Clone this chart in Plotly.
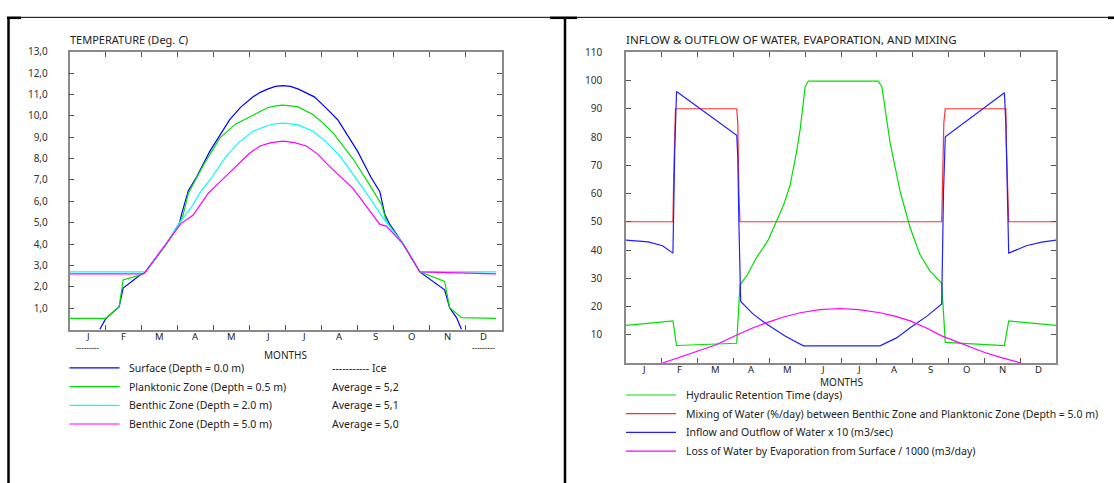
import plotly.graph_objects as go

W, H = 1114, 483

MONTHS = ["J", "F", "M", "A", "M", "J", "J", "A", "S", "O", "N", "D"]

# ---- left chart: temperature, x in months from 1 January ----
surface_m = [0.84, 1.01, 1.38, 1.49, 2.0, 2.09, 2.69, 3.06, 3.11, 3.25, 3.3, 3.53, 3.9, 4.45, 4.75, 5.1, 5.3,
             5.5, 5.72, 5.93, 6.14, 6.36, 6.56, 6.8, 7.11, 7.45, 8.0, 8.37, 8.62, 8.76, 8.9, 9.27, 9.73,
             10.42, 10.56, 10.75, 10.89]
surface_t = [0.0, 0.52, 1.07, 1.94, 2.6, 2.66, 4.0, 5.0, 5.38, 6.3, 6.5, 7.14, 8.35, 9.82, 10.4, 10.89, 11.1,
             11.25, 11.38, 11.42, 11.38, 11.25, 11.1, 10.89, 10.4, 9.82, 8.35, 7.14, 6.45, 5.38, 4.92, 4.0, 2.7,
             1.86, 1.02, 0.56, 0.0]

plankton_m = [0.0, 1.01, 1.38, 1.49, 1.95, 2.09, 2.69, 3.06, 3.16, 3.3, 3.71, 4.18, 4.6, 5.1, 5.5, 5.72, 5.93,
              6.14, 6.35, 6.77, 7.05, 7.32, 7.88, 8.34, 8.67, 8.8, 9.27, 9.73, 10.42, 10.56, 10.89, 11.85]
plankton_t = [0.52, 0.52, 1.07, 2.32, 2.55, 2.66, 4.0, 5.0, 5.38, 6.37, 7.67, 8.97, 9.6, 10.05, 10.38, 10.47,
              10.5, 10.47, 10.42, 10.05, 9.65, 9.2, 7.98, 6.76, 5.84, 5.07, 4.0, 2.7, 2.25, 1.02, 0.56, 0.52]

benthic2_m = [0.0, 2.06, 2.09, 2.69, 3.06, 3.16, 3.43, 3.62, 3.9, 4.36, 4.7, 5.1, 5.5, 5.72, 5.93, 6.14, 6.35,
              6.77, 7.15, 7.51, 8.16, 8.71, 9.27, 9.73, 11.85]
benthic2_t = [2.7, 2.7, 2.66, 4.0, 5.0, 5.23, 5.84, 6.4, 7.0, 8.13, 8.75, 9.28, 9.55, 9.63, 9.66, 9.63, 9.58,
              9.28, 8.75, 8.13, 6.6, 5.23, 4.0, 2.7, 2.7]

benthic5_m = [0.0, 2.06, 2.09, 2.69, 3.1, 3.43, 3.85, 4.18, 4.73, 5.0, 5.29, 5.6, 5.93, 6.25, 6.58, 6.9, 7.2,
              7.69, 7.88, 8.62, 8.8, 9.27, 9.73, 11.85]
benthic5_t = [2.61, 2.61, 2.66, 4.0, 4.97, 5.35, 6.37, 6.91, 7.83, 8.25, 8.59, 8.75, 8.82, 8.75, 8.59, 8.2,
              7.67, 6.91, 6.6, 4.92, 4.84, 4.0, 2.7, 2.61]

TEMP_TICKS = [1, 2, 3, 4, 5, 6, 7, 8, 9, 10, 11, 12, 13]
TEMP_LABELS = ["1,0", "2,0", "3,0", "4,0", "5,0", "6,0", "7,0", "8,0", "9,0", "10,0", "11,0", "12,0", "13,0"]
TEMP_NAMES = ["Surface (Depth = 0.0 m)", "Planktonic Zone (Depth = 0.5 m)",
              "Benthic Zone (Depth = 2.0 m)", "Benthic Zone (Depth = 5.0 m)"]
TEMP_NOTES = ["----------- Ice", "Average = 5,2", "Average = 5,1", "Average = 5,0"]

# ---- right chart: water balance ----
retention_m = [0.0, 1.31, 1.41, 3.09, 3.18, 3.4, 3.65, 3.96, 4.2, 4.4, 4.58, 4.75, 4.86, 5.0, 5.09, 7.04,
               7.14, 7.37, 7.65, 7.93, 8.2, 8.47, 8.81, 8.91, 10.56, 10.68, 12.0]
retention_v = [13.3, 14.9, 6.2, 7.0, 27.6, 31.5, 37.5, 43.3, 50.2, 56.0, 63.0, 74.0, 82.7, 97.8, 99.8, 99.8,
               97.8, 78.0, 60.7, 47.9, 38.5, 32.8, 28.2, 7.3, 6.2, 14.9, 13.3]

mixing_m = [0.0, 1.31, 1.33, 1.35, 1.38, 3.09, 3.12, 3.15, 3.18, 8.81, 8.84, 8.87, 8.91, 10.6, 10.62,
            10.65, 10.68, 12.0]
mixing_v = [50, 50, 65, 75, 90, 90, 85, 60, 50, 50, 65, 85, 90, 90, 75, 65, 50, 50]

flow_m = [0.0, 0.62, 1.02, 1.31, 1.36, 1.41, 3.09, 3.12, 3.15, 3.18, 3.2, 3.55, 3.93, 4.45, 4.95, 7.09,
          7.55, 7.93, 8.4, 8.81, 8.86, 8.91, 10.56, 10.6, 10.64, 10.68, 11.17, 11.6, 12.0]
flow_v = [43.5, 42.9, 41.5, 38.9, 75.0, 96.1, 80.6, 73.0, 50.0, 27.6, 21.8, 17.3, 13.7, 9.5, 6.1, 6.1,
          8.9, 12.5, 16.6, 20.9, 60.0, 80.1, 95.7, 85.0, 60.0, 38.9, 41.5, 42.8, 43.5]

evap_m = [1.02, 1.56, 1.79, 2.5, 3.09, 3.5, 3.93, 4.4, 4.86, 5.4, 5.97, 6.5, 7.09, 7.5, 7.93, 8.4, 8.81,
          9.4, 9.99, 10.5, 11.03]
evap_v = [0.0, 2.4, 3.2, 6.4, 9.9, 12.2, 14.3, 16.3, 17.8, 18.9, 19.3, 18.9, 17.8, 16.6, 14.9, 12.3, 9.6,
          6.6, 3.8, 1.8, 0.0]

WATER_TICKS = [10, 20, 30, 40, 50, 60, 70, 80, 90, 100, 110]
WATER_NAMES = ["Hydraulic Retention Time (days)",
               "Mixing of Water (%/day) between Benthic Zone and Planktonic Zone (Depth = 5.0 m)",
               "Inflow and Outflow of Water x 10 (m3/sec)",
               "Loss of Water by Evaporation from Surface / 1000 (m3/day)"]


def px(x):
    return x / W


def py(y):
    return 1 - y / H


FONT = "Noto Sans"
FRAME = "#8a8a8a"

fig = go.Figure()

temp_series = [(surface_m, surface_t, "#0000ff"), (plankton_m, plankton_t, "#00e000"),
               (benthic2_m, benthic2_t, "#00ffff"), (benthic5_m, benthic5_t, "#ff00ff")]
for i, (m, t, c) in enumerate(temp_series):
    fig.add_trace(go.Scatter(x=m, y=t, mode="lines", name=TEMP_NAMES[i],
                             line=dict(color=c, width=1.2), xaxis="x", yaxis="y"))

water_series = [(retention_m, retention_v, "#00e000"), (mixing_m, mixing_v, "#ff3030"),
                (flow_m, flow_v, "#2020ff"), (evap_m, evap_v, "#ff00ff")]
for i, (m, v, c) in enumerate(water_series):
    fig.add_trace(go.Scatter(x=m, y=v, mode="lines", name=WATER_NAMES[i],
                             line=dict(color=c, width=1.2), xaxis="x2", yaxis="y2"))

axis_common = dict(showgrid=False, zeroline=False, showline=True, linecolor=FRAME, linewidth=1.5,
                   mirror="allticks", ticks="inside", ticklen=5, tickwidth=1.2, tickcolor="#555",
                   fixedrange=True)

month_edges = list(range(13))

fig.update_layout(
    width=W, height=H, autosize=False,
    margin=dict(l=0, r=0, t=0, b=0),
    paper_bgcolor="white", plot_bgcolor="white",
    showlegend=False,
    font=dict(family=FONT, size=10.5, color="#222"),
    xaxis=dict(domain=[px(69.5), px(501.5)], range=[0, 12], anchor="y",
               tickvals=month_edges, ticktext=[""] * 13, **axis_common),
    yaxis=dict(domain=[py(327), py(44.5)], range=[0, 13], anchor="x",
               tickvals=TEMP_TICKS, ticktext=TEMP_LABELS, ticklabelstandoff=18,
               tickfont=dict(size=10, color="#333"), **axis_common),
    xaxis2=dict(domain=[px(626), px(1056)], range=[0, 12], anchor="y2",
                tickvals=month_edges, ticktext=[""] * 13, **axis_common),
    yaxis2=dict(domain=[py(361), py(45)], range=[0, 110], anchor="x2",
                tickvals=WATER_TICKS, ticktext=[str(v) for v in WATER_TICKS], ticklabelstandoff=20,
                tickfont=dict(size=10, color="#333"), **axis_common),
)

ann = []
shapes = []

# month letters
for i, lab in enumerate(MONTHS):
    ann.append(dict(x=i + 0.5, y=py(334), xref="x", yref="paper", text=lab, showarrow=False,
                    font=dict(size=9.5), xanchor="center", yanchor="middle"))
    ann.append(dict(x=i + 0.5, y=py(368), xref="x2", yref="paper", text=lab, showarrow=False,
                    font=dict(size=9.5), xanchor="center", yanchor="middle"))

# ice markers under January and December
for m in (0.5, 11.5):
    ann.append(dict(x=m, y=py(345.5), xref="x", yref="paper", text="---------", showarrow=False,
                    font=dict(size=8), xanchor="center", yanchor="middle"))

ann.append(dict(x=6, y=py(353), xref="x", yref="paper", text="MONTHS", showarrow=False,
                font=dict(size=10), xanchor="center", yanchor="middle"))
ann.append(dict(x=6, y=py(380), xref="x2", yref="paper", text="MONTHS", showarrow=False,
                font=dict(size=10), xanchor="center", yanchor="middle"))

# titles
ann.append(dict(x=px(68), y=py(32), xref="paper", yref="paper", text="TEMPERATURE (Deg. <i>C</i>)",
                showarrow=False, font=dict(size=11), xanchor="left", yanchor="middle"))
ann.append(dict(x=px(624), y=py(32), xref="paper", yref="paper",
                text="INFLOW &amp; OUTFLOW OF WATER, EVAPORATION, AND MIXING",
                showarrow=False, font=dict(size=11.5), xanchor="left", yanchor="middle"))

# left legend
for i, (_, _, c) in enumerate(temp_series):
    y = 366 + i * 19
    shapes.append(dict(type="line", xref="paper", yref="paper", x0=px(69.5), x1=px(119.5),
                       y0=py(y), y1=py(y), line=dict(color=c, width=1.2)))
    ann.append(dict(x=px(127), y=py(y), xref="paper", yref="paper", text=TEMP_NAMES[i],
                    showarrow=False, xanchor="left", yanchor="middle"))
    ann.append(dict(x=px(330), y=py(y), xref="paper", yref="paper", text=TEMP_NOTES[i],
                    showarrow=False, xanchor="left", yanchor="middle"))

# right legend
for i, (_, _, c) in enumerate(water_series):
    y = 393.5 + i * 19
    shapes.append(dict(type="line", xref="paper", yref="paper", x0=px(626), x1=px(676),
                       y0=py(y), y1=py(y), line=dict(color=c, width=1.2)))
    ann.append(dict(x=px(684), y=py(y), xref="paper", yref="paper", text=WATER_NAMES[i],
                    showarrow=False, xanchor="left", yanchor="middle"))

# panel borders
border = dict(color="black", width=1)
shapes.append(dict(type="line", xref="paper", yref="paper", x0=px(7), x1=px(1114), y0=py(9.5), y1=py(9.5),
                   line=border))
for x0, x1 in [(7, 21), (550, 577), (1108, 1114)]:
    shapes.append(dict(type="line", xref="paper", yref="paper", x0=px(x0), x1=px(x1), y0=py(10), y1=py(10),
                       line=dict(color="black", width=2.5)))
for x in (8.5, 565):
    shapes.append(dict(type="line", xref="paper", yref="paper", x0=px(x), x1=px(x), y0=py(9.5), y1=py(483),
                       line=dict(color="black", width=2.5)))

fig.update_layout(annotations=ann, shapes=shapes)

# pin the plot to the page corner so figure pixels match window pixels
pin = ("var d = document.getElementById('{plot_id}');"
       "document.body.style.margin = '0';"
       "d.style.position = 'absolute'; d.style.left = '0px'; d.style.top = '0px';")

fig.write_html("out.html", post_script=pin, config={"displayModeBar": False})
